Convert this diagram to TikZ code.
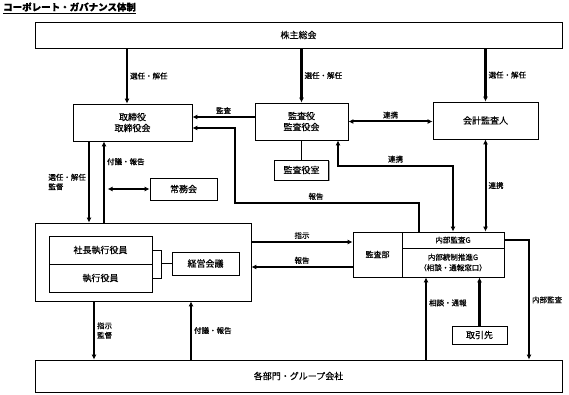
\documentclass[tikz,border=0pt]{standalone}
\usepackage{fontspec}
\setmainfont{Noto Sans CJK JP}[FakeBold=0.4]
\usetikzlibrary{arrows.meta, shadows}

\tikzset{
  box/.style={draw, line width=0.8pt, fill=white, align=center, inner sep=0pt,
    font=\fontsize{9}{11}\selectfont,
    drop shadow={shadow xshift=1.3pt, shadow yshift=-1.3pt, fill=black!45, opacity=0.8}},
  cell/.style={box, font=\fontsize{7.5}{10.5}\selectfont},
  arr/.style={-{Latex[length=5pt,width=5pt]}, line width=2.2pt},
  link/.style={{Latex[length=5pt,width=5pt]}-{Latex[length=5pt,width=5pt]}, line width=2pt},
  lbl/.style={font=\fontsize{7.5}{9.5}\selectfont, inner sep=2pt, align=left},
  thinline/.style={line width=0.8pt},
}

\begin{document}
\begin{tikzpicture}[x=1pt, y=-1pt]
\useasboundingbox (0,0) rectangle (569,395);

\node[anchor=west, inner sep=0pt, font=\bfseries\fontsize{9.5}{11}\selectfont] (title) at (3,8) {\underline{コーポレート・ガバナンス体制}};

% boxes
\node[box, minimum width=527pt, minimum height=26pt] (soukai) at (298.5,35) {株主総会};
\node[box, minimum width=119pt, minimum height=37pt] (torishimari) at (132.5,122.5) {取締役\\取締役会};
\node[box, minimum width=93pt, minimum height=37pt] (kansayaku) at (301.5,121.5) {監査役\\監査役会};
\node[box, minimum width=105pt, minimum height=37pt] (kaikei) at (485.5,120.5) {会計監査人};
\node[box, minimum width=54pt, minimum height=20pt] (kansashitsu) at (301.5,170) {監査役室};
\node[box, minimum width=67pt, minimum height=22pt] (joumu) at (183.5,189) {常務会};

\node[box, minimum width=216pt, minimum height=78pt] (exec) at (143,262) {};
\node[box, minimum width=103pt, minimum height=28pt] (shachou) at (100.5,250) {社長執行役員};
\node[box, minimum width=103pt, minimum height=28pt] (shikkou) at (100.5,278) {執行役員};
\node[box, minimum width=67pt, minimum height=23pt] (keiei) at (205.5,263.5) {経営会議};

\node[cell, minimum width=49pt, minimum height=45pt, font=\fontsize{8}{10}\selectfont] (kansabu) at (377.5,254.5) {監査部};
\node[cell, minimum width=102pt, minimum height=16pt] (naibu) at (453,240) {内部監査G};
\node[cell, minimum width=102pt, minimum height=29pt] (tousei) at (453,262.5) {内部統制推進G\\（相談・通報窓口）};
\node[box, minimum width=55pt, minimum height=18pt] (torihiki) at (479.5,335) {取引先};

\node[box, minimum width=527pt, minimum height=32pt] (kakubu) at (298.5,376) {各部門・グループ会社};

% shareholders
\draw[arr] ([xshift=-5.5pt]torishimari.north |- soukai.south) -- node[lbl,right]{選任・解任} ([xshift=-5.5pt]torishimari.north);
\draw[arr] (kansayaku.north |- soukai.south) -- node[lbl,right]{選任・解任} (kansayaku.north);
\draw[arr] (kaikei.north |- soukai.south) -- node[lbl,right]{選任・解任} (kaikei.north);

% auditors
\draw[arr] ([yshift=4.5pt]kansayaku.west) -- node[lbl,above]{監査} ([yshift=4.5pt]kansayaku.west -| torishimari.east);
\draw[link] (kansayaku.east) -- node[lbl,above]{連携} (kansayaku.east -| kaikei.west);
\draw[thinline] (kansayaku.south) -- (kansashitsu.north);
\draw[link] ([xshift=36.5pt]kansayaku.south) |- node[lbl,above,pos=0.75]{連携} ([yshift=66pt]naibu.north) -- (naibu.north);
\draw[link] (kaikei.south) -- node[lbl,right]{連携} (kaikei.south |- naibu.north);
\draw[arr] ([xshift=-34pt]naibu.north) |- node[lbl,above,pos=0.78]{報告} (235,203) |- ([yshift=-5.5pt]torishimari.east);
\draw[arr] (naibu.east) -| node[lbl,right,pos=0.75]{内部監査} ([xshift=230.5pt]kakubu.north);

% board and executives
\draw[arr] ([xshift=-43.5pt]torishimari.south) -- node[lbl,left]{選任・解任\\監督} ([xshift=-43.5pt]torishimari.south |- exec.north);
\draw[arr] ([xshift=-28.5pt]torishimari.south |- exec.north) -- node[lbl,right,pos=0.75]{付議・報告} ([xshift=-28.5pt]torishimari.south);
\draw[link] (joumu.west) -- ([xshift=-42pt]joumu.west);
\draw[thinline] (shachou.east) -| ([xshift=-10pt]keiei.west) |- (shikkou.east);
\draw[thinline] ([xshift=-10pt]keiei.west) -- (keiei.west);

\draw[arr] ([yshift=20pt]exec.east) -- node[lbl,above]{指示} ([yshift=20pt]exec.east -| kansabu.west);
\draw[arr] ([yshift=-12.5pt]kansabu.west) -- node[lbl,above]{報告} ([yshift=-12.5pt]kansabu.west -| exec.east);

% departments
\draw[arr] ([xshift=-49pt]exec.south) -- node[lbl,right]{指示\\監督} ([xshift=-49pt]exec.south |- kakubu.north);
\draw[arr] ([xshift=48pt]exec.south |- kakubu.north) -- node[lbl,right]{付議・報告} ([xshift=48pt]exec.south);
\draw[arr] ([xshift=-27pt]tousei.south |- kakubu.north) -- node[lbl,right,pos=0.69]{相談・通報} ([xshift=-27pt]tousei.south);
\draw[arr] (torihiki.north) -- (torihiki.north |- tousei.south);

\end{tikzpicture}
\end{document}
